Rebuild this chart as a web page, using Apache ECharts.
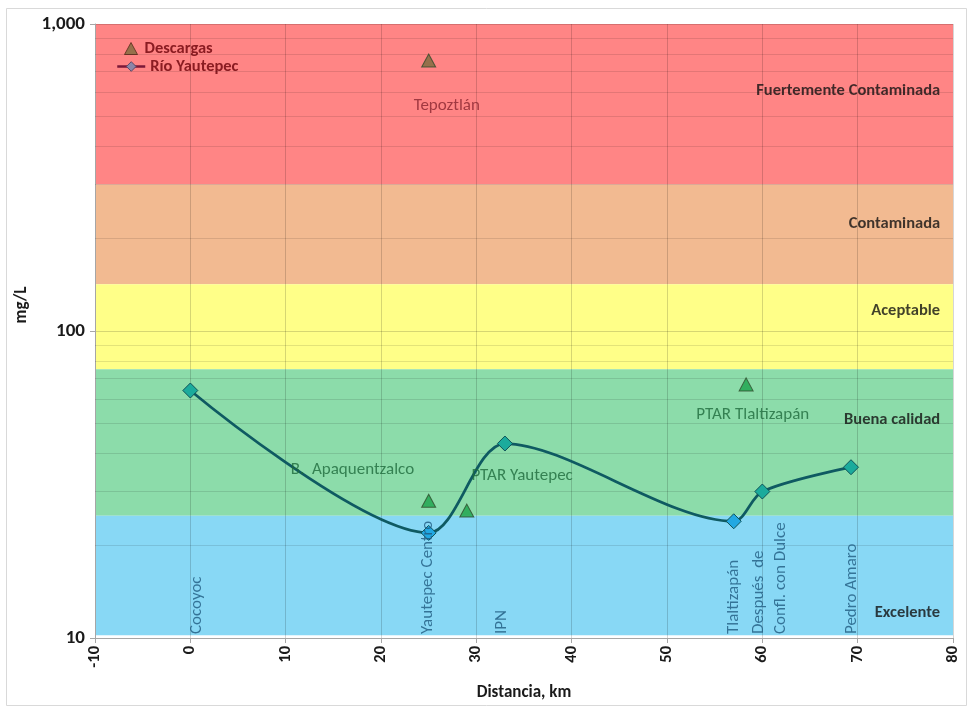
<!DOCTYPE html>
<html>
<head>
<meta charset="utf-8">
<script src="https://cdn.jsdelivr.net/npm/echarts@6/dist/echarts.min.js"></script>
<style>
  html, body { margin: 0; padding: 0; background: #ffffff; }
  #chart { width: 969px; height: 706px; }
</style>
</head>
<body>
<div id="chart"></div>
<script>
// Río Yautepec sampling stations: distance along the river (km) and concentration (mg/L)
const riverKm = [0, 25, 33, 57, 60, 69.3];
const riverMgL = [64, 22, 43, 24, 30, 36];

// Discharges entering the river
const dischargeKm = [25, 25, 29, 58.3];
const dischargeMgL = [760, 28, 26, 67];

// Station names, written upright at the foot of the plot
const stationNames = ['Cocoyoc', 'Yautepec Centro', 'IPN', 'Tlaltizapán', 'Después  de\nConfl. con Dulce', 'Pedro Amaro'];
const stationLabelKm = [0.7, 24.9, 32.7, 57.0, 60.8, 69.4];
const stationLabelMgL = [10.3, 10.3, 10.3, 10.3, 10.3, 10.3];

// Discharge names
const dischargeNames = ['Tepoztlán', 'B.  Apaquentzalco', 'PTAR Yautepec', 'PTAR Tlaltizapán'];
const dischargeLabelKm = [26.9, 17.0, 34.8, 59.0];
const dischargeLabelMgL = [542, 35.4, 33.8, 53.4];

// Water quality classes: limits in mg/L
const classNames = ['Fuertemente Contaminada', 'Contaminada', 'Aceptable', 'Buena calidad', 'Excelente'];
const classLow = [300, 142, 75, 25, 10.2];
const classHigh = [1000, 300, 142, 75, 25];
const classLabelKm = [78.65, 78.65, 78.65, 78.65, 78.65];
const classLabelMgL = [606, 224, 116, 51.4, 12.05];

// Intermediate gridlines of the log scale
const minorGridMgL = [20, 30, 40, 50, 60, 70, 80, 90, 200, 300, 400, 500, 600, 700, 800, 900];

// Y tick labels
const yTickLabels = { 10: '10', 100: '100', 1000: '1,000' };

const FONT = 'Carlito, Lato, "Open Sans", sans-serif';
const classColors = ['#ff8585', '#f2ba91', '#ffff88', '#8cdcaa', '#88d8f5'];

const chart = echarts.init(document.getElementById('chart'));

const pairs = (xs, ys) => xs.map((x, i) => [x, ys[i]]);

const legendText = { color: '#8b1c22', fontWeight: 'bold', fontSize: 16.5, fontFamily: FONT };

chart.setOption({
  backgroundColor: '#ffffff',
  animation: false,
  graphic: [{
    type: 'rect', left: 4, top: 6, z: -10,
    shape: { width: 960, height: 697 },
    style: { fill: 'none', stroke: '#d9d9d9', lineWidth: 1 }
  }],
  grid: { left: 95, right: 16, top: 24, bottom: 66, containLabel: false },
  legend: [
    {
      // discharges: a plain triangle
      left: 119, top: 35, itemWidth: 13, itemHeight: 12,
      textStyle: Object.assign({ padding: [0, 0, 0, 2] }, legendText),
      data: [{ name: 'Descargas', icon: 'triangle',
        itemStyle: { color: '#7c6a3c', borderColor: '#5a2a1a', borderWidth: 1 } }]
    },
    {
      // river: line with a diamond
      left: 111, top: 53, itemWidth: 28, itemHeight: 12,
      textStyle: legendText,
      data: [{ name: 'Río Yautepec', itemStyle: { color: '#8a86a8', borderColor: '#5a4a6a', borderWidth: 1 },
        lineStyle: { color: '#7a1838', width: 2.5 } }]
    }
  ],
  xAxis: {
    type: 'value', min: -10, max: 80, interval: 10, z: 3,
    axisLine: { show: true, onZero: false, lineStyle: { color: '#a6a6a6' } },
    axisTick: { show: true, length: 5, lineStyle: { color: '#a6a6a6' } },
    axisLabel: { rotate: 90, margin: 8, fontWeight: 'bold', fontSize: 16.5, color: '#1a1a1a', fontFamily: FONT },
    splitLine: { show: true, lineStyle: { color: 'rgba(0,0,0,0.16)', width: 1 } },
    name: 'Distancia, km', nameLocation: 'middle', nameGap: 46,
    nameTextStyle: { fontWeight: 'bold', fontSize: 17, color: '#1a1a1a', fontFamily: FONT }
  },
  yAxis: {
    type: 'log', logBase: 10, min: 10, max: 1000, z: 3,
    axisLine: { show: true, onZero: false, lineStyle: { color: '#a6a6a6' } },
    axisTick: { show: true, length: 5, lineStyle: { color: '#a6a6a6' } },
    axisLabel: {
      margin: 10, fontWeight: 'bold', fontSize: 19, color: '#1a1a1a', fontFamily: FONT,
      formatter: v => yTickLabels[Math.round(v)] || ''
    },
    splitLine: { show: true, lineStyle: { color: 'rgba(0,0,0,0.16)', width: 1 } },
    name: 'mg/L', nameLocation: 'middle', nameGap: 46,
    nameTextStyle: { fontWeight: 'bold', fontSize: 17, color: '#1a1a1a', fontFamily: FONT, padding: [0, 0, 0, 52] }
  },
  series: [
    {
      // quality class bands
      name: 'bands', type: 'line', data: [], z: 1, silent: true,
      markArea: {
        silent: true,
        data: classLow.map((lo, i) => [
          { yAxis: lo, itemStyle: { color: classColors[i] } },
          { yAxis: classHigh[i] }
        ])
      }
    },
    {
      name: 'minor', type: 'line', data: [], z: 2, silent: true,
      markLine: {
        silent: true, symbol: ['none', 'none'], label: { show: false },
        lineStyle: { color: 'rgba(0,0,0,0.11)', type: 'solid', width: 1 },
        data: minorGridMgL.map(v => ({ yAxis: v }))
      }
    },
    {
      name: 'Río Yautepec', type: 'line', z: 5,
      data: pairs(riverKm, riverMgL),
      smooth: 0.3,
      symbol: 'diamond', symbolSize: 15,
      lineStyle: { color: '#0f5a62', width: 2.75 },
      itemStyle: {
        color: p => (p.value[1] < 25 ? '#22a8e2' : '#1bab9c'),
        borderColor: '#0e5258', borderWidth: 1
      }
    },
    {
      name: 'Descargas', type: 'scatter', z: 5,
      data: pairs(dischargeKm, dischargeMgL),
      symbol: 'triangle', symbolSize: [14, 13],
      itemStyle: {
        color: p => (p.value[1] > 300 ? '#7c6a3c' : '#1ca34c'),
        borderColor: '#2f4a2a', borderWidth: 1
      }
    },
    {
      name: 'stations', type: 'scatter', z: 6, silent: true,
      symbolSize: 1, itemStyle: { color: 'transparent' },
      data: stationNames.map((n, i) => ({ name: n, value: [stationLabelKm[i], stationLabelMgL[i]] })),
      label: {
        show: true, position: 'inside', rotate: 90, align: 'left', verticalAlign: 'middle',
        formatter: p => p.name, color: '#1f5a80', fontSize: 17, lineHeight: 22, fontFamily: FONT
      }
    },
    {
      name: 'dischargeNames', type: 'scatter', z: 6, silent: true,
      symbolSize: 1, itemStyle: { color: 'transparent' },
      data: dischargeNames.map((n, i) => ({
        name: n, value: [dischargeLabelKm[i], dischargeLabelMgL[i]],
        // Tepoztlán sits in the red band and is written in a darker red
        label: { color: dischargeLabelMgL[i] > 300 ? '#8a2630' : '#1e6a3c' }
      })),
      label: {
        show: true, position: 'inside', align: 'center', verticalAlign: 'middle',
        formatter: p => p.name, fontSize: 17, fontFamily: FONT
      },
      labelLayout: { hideOverlap: false }
    },
    {
      name: 'classNames', type: 'scatter', z: 6, silent: true,
      symbolSize: 1, itemStyle: { color: 'transparent' },
      data: classNames.map((n, i) => ({ name: n, value: [classLabelKm[i], classLabelMgL[i]] })),
      label: {
        show: true, position: 'inside', align: 'right', verticalAlign: 'middle',
        formatter: p => p.name, fontSize: 16.5, fontWeight: 'bold', color: '#111111', fontFamily: FONT
      }
    }
  ]
});
</script>
</body>
</html>
